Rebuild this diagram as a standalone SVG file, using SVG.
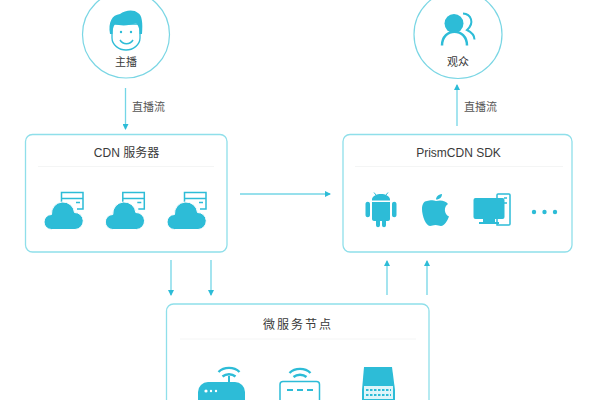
<svg xmlns="http://www.w3.org/2000/svg" width="600" height="400" viewBox="0 0 600 400">
<style>
.box{fill:#fff;stroke:#8fdfea;stroke-width:1.3}
.circ{fill:#fff;stroke:#7ad6e4;stroke-width:1.2}
.sep{stroke:#f4f5f5;stroke-width:1;fill:none}
.t{font-family:"Liberation Sans","Noto Sans CJK SC",sans-serif;fill:#3a3a3a;font-size:11px;text-anchor:middle}
.h{font-size:12px}
.tl{font-family:"Liberation Sans","Noto Sans CJK SC",sans-serif;fill:#555;font-size:11px}
.f{fill:#2dbcd7}
.o{fill:none;stroke:#2dbcd7;stroke-width:1.5}
.wifi{fill:none;stroke:#2dbcd7;stroke-width:2.4}
.w{fill:#fff}
.c{stroke:#74d6e6;stroke-width:1.3;fill:none;marker-end:url(#a)}
</style>
<defs>
<marker id="a" markerUnits="userSpaceOnUse" markerWidth="7" markerHeight="6" refX="5" refY="3" orient="auto"><path d="M0 0L6 3L0 6Z" fill="#2dbcd7"/></marker>
<g id="cloud">
<path class="o" d="M61.500 205V192.500H83V209H77M61.500 198.500H83M76 202.500H80"/>
<path class="f" stroke="#fff" stroke-width="1" d="M51.500 229.500A7.500 7.500 0 0 1 51.500 214.500A11.500 11.500 0 0 1 74.500 212.500A8.500 8.500 0 0 1 75 229.500Z"/>
</g>
</defs>
<g id="connectors">
<path class="c" d="M125.500 88V129"/>
<path class="c" d="M457 126V85"/>
<path class="c" d="M240 194H330"/>
<path class="c" d="M171 260V295"/>
<path class="c" d="M211 260V295"/>
<path class="c" d="M387 295V261"/>
<path class="c" d="M427 295V261"/>
</g>
<g id="host">
<circle class="circ" cx="126" cy="34.500" r="43.500"/>
<path d="M112 24V38C112 45 119 50 126 50C133 50 140 45 140 38V24Z" fill="#fff" stroke="#2dbcd7" stroke-width="1.300"/>
<path class="f" d="M110 34C108 22 112 15 120 14C125 10 134 9 138 13C142 15 143 23 142 34L139.500 34C140 29 138 25 136 23C129 26 120 26 115 24C113 27 112.500 30 112.500 34Z"/>
<circle class="f" cx="121" cy="32" r="1.200"/><circle class="f" cx="131" cy="32" r="1.200"/>
<path d="M120 40C123 45 130 45 133 40" fill="none" stroke="#2dbcd7" stroke-width="1.500"/>
<text class="t" x="126" y="66">主播</text>
</g>
<g id="audience">
<circle class="circ" cx="458" cy="34.500" r="44"/>
<circle class="f" cx="454" cy="23.500" r="9.500"/>
<path d="M442 45.500C442 27 467 27 467 45.500" fill="none" stroke="#2dbcd7" stroke-width="2.500"/>
<path d="M463 13.500C471 14 475 23 467 30C471 32 474.500 35 474.500 39.500" fill="none" stroke="#2dbcd7" stroke-width="2"/>
<text class="t" x="458" y="66">观众</text>
</g>
<text class="tl" x="132" y="111">直播流</text>
<text class="tl" x="464" y="111">直播流</text>
<g id="cdn">
<rect class="box" x="25.500" y="134.500" width="201.500" height="117.500" rx="7"/>
<path class="sep" d="M38 166.500H214"/>
<text class="t h" x="126.500" y="157">CDN 服务器</text>
<use href="#cloud"/>
<use href="#cloud" x="61.300"/>
<use href="#cloud" x="123"/>
</g>
<g id="sdk">
<rect class="box" x="343" y="134.500" width="229" height="117.500" rx="7"/>
<path class="sep" d="M355 166.500H563"/>
<text class="t h" x="458.500" y="157">PrismCDN SDK</text>
<path class="f" d="M372 199.500C372 196 377 194 381 194C385 194 390 196 390 199.500V200.500H372ZM372 202H390V219C390 220 389 221 388 221H386V225C386 228 382 228 382 225V221H380V225C380 228 376 228 376 225V221H374C373 221 372 220 372 219ZM365.500 204C365.500 201 370 201 370 204V215C370 218 365.500 218 365.500 215ZM392 204C392 201 396.500 201 396.500 204V215C396.500 218 392 218 392 215Z"/>
<path d="M374 192.500L376 195M388 192.500L386 195" stroke="#2dbcd7" stroke-width="1"/>
<path class="f" d="M436 201C432 199.500 429 201 427 201C424 201 422 204.500 422 209C422 216 426 226 430 226C432 226 433 225 435.500 225C438 225 439 226 441 226C444.500 226 447.500 220.500 449 216.500C444 214.500 443.500 206.500 448 204C446 201 441 199.500 436 201ZM436 199.500C436 197 438 194.500 442 194C442 197 440 199.500 436 199.500Z"/>
<path class="o" d="M497 198V195C497 194.500 497.500 194 498 194H509C509.500 194 510 194.500 510 195V224C510 224.500 509.500 225 509 225H497V219M504 198H507M504 203H507"/>
<rect class="f" x="473.500" y="198" width="31" height="21" rx="2"/>
<path class="f" d="M483 219H495V222H499V224H479V222H483Z"/>
<circle class="f" cx="534" cy="212" r="2.200"/><circle class="f" cx="544.500" cy="212" r="2.200"/><circle class="f" cx="555" cy="212" r="2.200"/>
</g>
<g id="micro">
<rect class="box" x="166.500" y="304" width="262.500" height="110" rx="7"/>
<path class="sep" d="M180 339H416"/>
<text class="t h" x="298" y="329" style="letter-spacing:2px">微服务节点</text>
<path class="wifi" d="M218.500 372C224 366.500 234 366.500 239.500 372M222.500 376.500C226 373.500 232 373.500 235.500 376.500"/>
<path d="M229 376V383" stroke="#2dbcd7" stroke-width="2"/>
<rect class="f" x="198" y="382" width="47" height="30" rx="10"/>
<circle class="w" cx="206" cy="391" r="1.600"/><circle class="w" cx="211" cy="391" r="1.200"/><circle class="w" cx="216" cy="391" r="1.200"/>
<path class="wifi" d="M289.500 373C295 367.500 305 367.500 310.500 373M293.500 377C297 374 303 374 306.500 377"/>
<rect x="280" y="381.500" width="39.500" height="26" rx="3" fill="#fff" stroke="#2dbcd7" stroke-width="1.500"/>
<path d="M287 390H293M297 390H303M307 390H313" stroke="#2dbcd7" stroke-width="2"/>
<path class="f" d="M364 367H392L395 390V412H362V390Z"/>
<rect x="364" y="386" width="29" height="13" fill="#fff" fill-opacity=".85"/>
<path d="M366 390H391M366 395H391" stroke="#2dbcd7" stroke-width="2" stroke-dasharray="2.500 1.500"/>
</g>
</svg>
